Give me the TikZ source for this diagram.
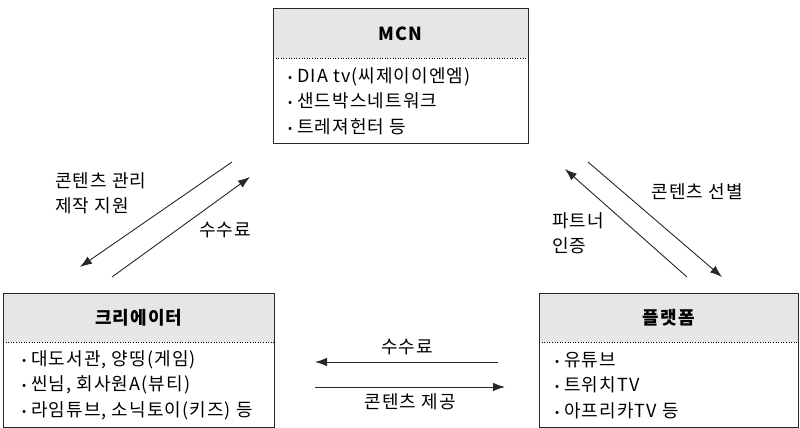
\documentclass[tikz,border=0pt]{standalone}
\usepackage{fontspec}
\setmainfont[LetterSpace=6]{Noto Sans CJK KR}
\usetikzlibrary{arrows.meta,positioning}
\definecolor{headgray}{RGB}{230,230,230}
\definecolor{linegray}{RGB}{40,40,40}
\newcommand{\itm}{{\fontsize{12}{12}\selectfont\raisebox{1pt}{•}}\hspace{5pt}}

\begin{document}
\begin{tikzpicture}[x=1pt,y=-1pt,
  head/.style={fill=headgray, minimum width=#1, minimum height=49pt, inner sep=0pt, anchor=north west, font=\bfseries\fontsize{18}{20}\selectfont},
  body/.style={minimum width=#1, minimum height=85pt, inner sep=0pt, anchor=north west},
  list/.style={align=left, inner sep=0pt, anchor=west, font=\fontsize{18}{25.5}\selectfont},
  lbl/.style={font=\fontsize{18}{25}\selectfont, inner sep=0pt},
  flow/.style={linegray, line width=0.9pt, -{Latex[length=12pt,width=8.5pt]}},
  boxline/.style={linegray, line width=1pt},
  sep/.style={black, line width=1pt, dash pattern=on 1pt off 1.6pt}]
\useasboundingbox (0,0) rectangle (800,428);
\fill[white] (0,0) rectangle (800,428);

\node[head=255pt] (mcnh) at (273,9) {MCN};
\node[body=255pt] (mcnb) at (mcnh.south west) {};
\node[list, right=15pt of mcnb.west] (mcnt) {\itm DIA tv(씨제이이엔엠)\\ \itm 샌드박스네트워크\\ \itm 트레져헌터 등};
\draw[boxline] (mcnh.north west) rectangle (mcnb.south east);
\draw[sep] (mcnh.south west) -- (mcnh.south east);

\node[head=271pt] (crh) at (3,293) {크리에이터};
\node[body=271pt] (crb) at (crh.south west) {};
\node[list, right=19pt of crb.west] (crt) {\itm 대도서관, 양띵(게임)\\ \itm 씬님, 회사원A(뷰티)\\ \itm 라임튜브, 소닉토이(키즈) 등};
\draw[boxline] (crh.north west) rectangle (crb.south east);
\draw[sep] (crh.south west) -- (crh.south east);

\node[head=259pt] (plh) at (539,293) {플랫폼};
\node[body=259pt] (plb) at (plh.south west) {};
\node[list, right=16pt of plb.west] (plt) {\itm 유튜브\\ \itm 트위치TV\\ \itm 아프리카TV 등};
\draw[boxline] (plh.north west) rectangle (plb.south east);
\draw[sep] (plh.south west) -- (plh.south east);

\coordinate (l1s) at (232,162);
\coordinate (l1e) at (80,267);
\coordinate (l2s) at (112,277);
\coordinate (l2e) at (250,177);
\coordinate (r1s) at (588,162);
\coordinate (r1e) at (722,277);
\coordinate (r2s) at (687,277);
\coordinate (r2e) at (565,169);
\coordinate (b1s) at (498,362);
\coordinate (b1e) at (315,362);
\coordinate (b2s) at (315,387);
\coordinate (b2e) at (505,387);

\draw[flow] (l1s) -- (l1e);
\draw[flow] (l2s) -- (l2e);
\draw[flow] (r1s) -- (r1e);
\draw[flow] (r2s) -- (r2e);
\draw[flow] (b1s) -- (b1e);
\draw[flow] (b2s) -- (b2e);

\node[lbl, anchor=west, align=left] (mgmt) at (55,193) {콘텐츠 관리\\제작 지원};
\node[lbl] (feel) at (225,230) {수수료};
\node[lbl] (pick) at (697,192) {콘텐츠 선별};
\node[lbl, anchor=west, align=left] (cert) at (552,233) {파트너\\인증};
\node[lbl] (feeb) at (407,347) {수수료};
\node[lbl] (give) at (410,402) {콘텐츠 제공};
\end{tikzpicture}
\end{document}
